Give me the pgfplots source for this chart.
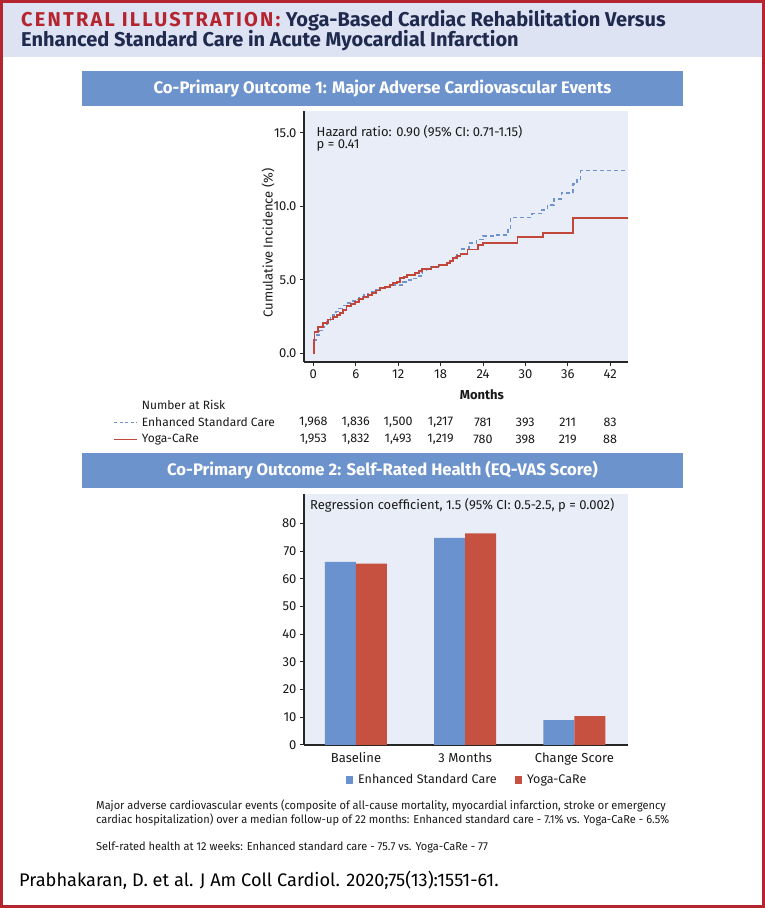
\documentclass[border=0pt]{standalone}
\usepackage{fontspec}
\setmainfont{Fira Sans}
\newfontfamily\footfont{Fira Sans}[FakeStretch=0.96]
\newfontfamily\spacedbold{Fira Sans}[UprightFont=* Bold, LetterSpace=11]
\usepackage{pgfplots}
\pgfplotsset{compat=1.18}
\definecolor{brd}{HTML}{B5252F}
\definecolor{hdr}{HTML}{DDE3F3}
\definecolor{navy}{HTML}{1F2A4E}
\definecolor{banner}{HTML}{6D93CD}
\definecolor{plotbg}{HTML}{E9EDF7}
\definecolor{dashcol}{HTML}{6F93CC}
\definecolor{redcol}{HTML}{C0473A}
\definecolor{barblue}{HTML}{6A92CE}
\definecolor{barred}{HTML}{C65140}
\definecolor{txt}{HTML}{1A1A1A}

\pgfplotstableread{
m v
0 0
0.05 0.5
0.15 0.9
0.45 1.24
0.8 1.55
1.2 1.81
1.6 2.0
1.9 2.22
2.4 2.4
2.8 2.6
3.2 2.85
3.5 3.06
4.1 3.25
4.7 3.44
5.3 3.55
5.9 3.67
6.5 3.82
7.1 3.97
7.7 4.08
8.3 4.19
8.9 4.3
9.4 4.42
10.1 4.53
10.8 4.65
12.7 4.87
13.4 4.98
14.1 5.1
14.8 5.26
15.2 5.45
15.4 5.67
16.0 5.78
16.5 5.85
17.7 5.94
18.3 6.05
18.9 6.12
19.4 6.3
19.8 6.57
20.3 6.68
20.8 6.8
21.0 7.1
22.0 7.5
23.1 7.75
24.0 7.98
25.7 8.05
27.5 8.4
27.9 9.25
30.9 9.5
32.3 9.75
33.1 10.1
34.0 10.5
35.1 10.9
36.7 11.5
37.3 11.8
37.8 12.42
44.51 12.42
}\esc

\pgfplotstableread{
m v
0 0
0.05 0.9
0.15 1.47
0.7 1.81
1.4 2.08
2.1 2.31
2.8 2.45
3.3 2.6
3.8 2.72
4.2 2.95
4.7 3.22
5.3 3.37
5.9 3.51
6.5 3.68
7.1 3.85
7.7 3.98
8.3 4.12
8.9 4.28
9.4 4.42
10.1 4.53
10.8 4.65
11.3 4.76
11.8 4.87
12.3 5.1
12.8 5.2
13.2 5.33
14.4 5.44
14.9 5.6
15.4 5.73
16.7 5.85
17.7 6.0
18.9 6.12
19.3 6.3
19.8 6.46
20.3 6.6
20.8 6.75
21.8 7.07
23.3 7.37
24.0 7.52
28.9 7.9
32.5 8.2
36.7 9.18
44.51 9.18
}\yoga

\begin{document}
\begin{tikzpicture}[x=1pt,y=1pt]
% page
\fill[white] (0pt,0pt) rectangle (765pt,908pt);
\fill[hdr] (3pt,905pt) rectangle (762pt,851.3pt);
% title
\node[anchor=base west,inner sep=0] at (21pt,881.3pt) {\fontsize{20}{24}\selectfont{\color{brd}\spacedbold CENTRAL ILLUSTRATION:}\ \textcolor{navy}{\bfseries Yoga-Based Cardiac Rehabilitation Versus}};
\node[anchor=base west,inner sep=0] at (21pt,861.3pt) {\fontsize{20}{24}\selectfont\bfseries\textcolor{navy}{Enhanced Standard Care in Acute Myocardial Infarction}};
% banners
\fill[banner] (82pt,837pt) rectangle (683pt,802pt);
\node[white] at (382.5pt,819.5pt) {\bfseries\fontsize{16.7}{20}\selectfont Co-Primary Outcome 1: Major Adverse Cardiovascular Events};
\fill[banner] (82pt,455pt) rectangle (683pt,420pt);
\node[white] at (382.5pt,437.5pt) {\bfseries\fontsize{16.7}{20}\selectfont Co-Primary Outcome 2: Self-Rated Health (EQ-VAS Score)};

% ---------- KM plot
\begin{axis}[
  at={(304pt,546pt)}, anchor=south west, scale only axis,
  width=324pt, height=251pt,
  xmin=-1.32, xmax=44.51, ymin=-0.59, ymax=16.48,
  axis lines=left,
  x axis line style={-, line width=1.6pt, color=black!85},
  y axis line style={-, line width=1.6pt, color=black!85},
  axis background/.style={fill=plotbg},
  xtick={0,6,...,42}, ytick={0,5,10,15},
  tick align=outside, major tick length=4pt,
  tick style={line width=1pt, color=black!85},
  yticklabel style={/pgf/number format/.cd, fixed, fixed zerofill, precision=1},
  /pgf/number format/assume math mode=true,
  ticklabel style={font=\fontsize{13}{15}\selectfont, text=txt},
  xlabel={\bfseries Months},
  xlabel style={at={(axis description cs:0.549,-0.131)}, anchor=center, font=\fontsize{13}{15}\selectfont, text=txt},
  ylabel={Cumulative Incidence (\%)},
  ylabel style={at={(axis description cs:-0.111,0.474)}, anchor=center, font=\fontsize{13}{15}\selectfont, text=txt},
  clip=true,
]
\addplot[const plot, dashcol, line width=1.6pt, dash pattern=on 4pt off 3pt] table[x=m,y=v] {\esc};
\addplot[const plot, redcol, line width=1.7pt] table[x=m,y=v] {\yoga};
\end{axis}
\node[anchor=west,inner sep=0,text=txt] at (316.5pt,776.3pt) {\fontsize{13}{15}\selectfont Hazard ratio: 0.90 (95\% CI: 0.71-1.15)};
\node[anchor=west,inner sep=0,text=txt] at (316.5pt,763pt) {\fontsize{13}{15}\selectfont p = 0.41};

% number at risk
\node[anchor=west,inner sep=0,text=txt] at (141.7pt,503pt) {\fontsize{12}{15}\selectfont Number at Risk};
\draw[dashcol,line width=1pt,dash pattern=on 3pt off 2.5pt] (114pt,485.7pt) -- (137pt,485.7pt);
\node[anchor=west,inner sep=0,text=txt] at (141.7pt,485.7pt) {\fontsize{12}{15}\selectfont Enhanced Standard Care};
\draw[redcol,line width=1pt] (114pt,468.7pt) -- (137pt,468.7pt);
\node[anchor=west,inner sep=0,text=txt] at (141.7pt,468.7pt) {\fontsize{12}{15}\selectfont Yoga-CaRe};
\foreach \a/\b [count=\i from 0] in {1{,}968/1{,}953, 1{,}836/1{,}832, 1{,}500/1{,}493, 1{,}217/1{,}219, 781/780, 393/398, 211/219, 83/88}{
  \node[inner sep=0,text=txt] at (313.3pt+42.4pt*\i,485.7pt) {\fontsize{12.5}{15}\selectfont \a};
  \node[inner sep=0,text=txt] at (313.3pt+42.4pt*\i,468.7pt) {\fontsize{12.5}{15}\selectfont \b};
}

% ---------- bar plot
\begin{axis}[
  at={(304pt,163pt)}, anchor=south west, scale only axis,
  width=324pt, height=251pt,
  xmin=-0.476, xmax=2.491, ymin=0, ymax=90.6,
  axis lines=left,
  x axis line style={-, line width=1.6pt, color=black!85},
  y axis line style={-, line width=1.6pt, color=black!85},
  axis background/.style={fill=plotbg},
  ybar=0pt, bar width=31pt,
  xtick={0,1,2}, xticklabels={Baseline,3 Months,Change Score},
  x tick style={draw=none},
  ytick={0,10,...,80},
  tick align=outside, major tick length=4pt,
  y tick style={line width=1pt, color=black!85},
  /pgf/number format/assume math mode=true,
  ticklabel style={font=\fontsize{13}{15}\selectfont, text=txt},
  legend style={at={(axis description cs:0.503,-0.139)}, anchor=center, draw=none, fill=none,
    legend columns=2, font=\fontsize{12.5}{15}\selectfont, text=txt,
    /tikz/every even column/.append style={column sep=16pt},
    /tikz/every odd column/.append style={column sep=3pt}},
]
\addplot[fill=barblue, draw=none, legend image code/.code={\fill[barblue] (0pt,-3.8pt) rectangle (7.5pt,3.8pt);}] coordinates {(0,66.1) (1,74.8) (2,9.0)};
\addplot[fill=barred, draw=none, legend image code/.code={\fill[barred] (0pt,-3.8pt) rectangle (7.5pt,3.8pt);}] coordinates {(0,65.5) (1,76.4) (2,10.4)};
\legend{Enhanced Standard Care, Yoga-CaRe}
\end{axis}
\node[anchor=west,inner sep=0,text=txt] at (310pt,403pt) {\fontsize{13}{15}\selectfont Regression coefficient, 1.5 (95\% CI: 0.5-2.5, p = 0.002)};

% footnotes
\node[anchor=west,inner sep=0,text=txt] at (96pt,102pt) {\footfont\fontsize{11.5}{14}\selectfont Major adverse cardiovascular events (composite of all-cause mortality, myocardial infarction, stroke or emergency};
\node[anchor=west,inner sep=0,text=txt] at (96pt,88pt) {\footfont\fontsize{11.5}{14}\selectfont cardiac hospitalization) over a median follow-up of 22 months: Enhanced standard care - 7.1\% vs. Yoga-CaRe - 6.5\%};
\node[anchor=west,inner sep=0,text=txt] at (96pt,61pt) {\footfont\fontsize{11.5}{14}\selectfont Self-rated health at 12 weeks: Enhanced standard care - 75.7 vs. Yoga-CaRe - 77};
\node[anchor=west,inner sep=0,text=black] at (19pt,28pt) {\fontsize{18.2}{21}\selectfont Prabhakaran, D. et al. J Am Coll Cardiol. 2020;75(13):1551-61.};
% border
\draw[brd,line width=3pt] (1.5pt,1.5pt) rectangle (763.5pt,906.5pt);
\end{tikzpicture}
\end{document}
